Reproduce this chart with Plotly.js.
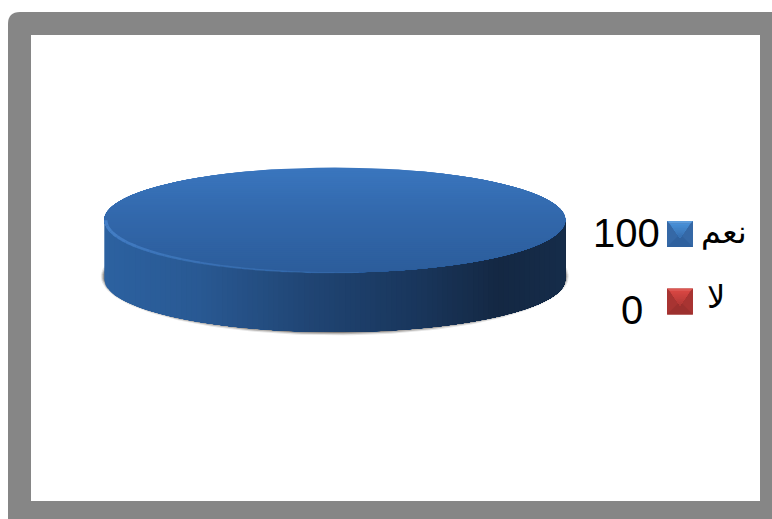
<!DOCTYPE html>
<html><head><meta charset="utf-8">
<script src="https://cdn.plot.ly/plotly-3.0.1.min.js"></script>
<style>html,body{margin:0;padding:0;background:#fff}#c{width:772px;height:519px}</style>
</head><body><div id="c"></div>
<script>
// Data
const categories = ['نعم', 'لا'];
const values = [100, 0];

// Geometry and style
const W = 772, H = 519;
const cx = 334.8, rx = 230.5, ry = 52.5, topY = 220, botY = 279.5;
const total = values.reduce((a, b) => a + b, 0);
const traces = [];
function mixArr(stops, t) {
  for (let i = 1; i < stops.length; i++) {
    if (t <= stops[i][0]) {
      const a = stops[i - 1], b = stops[i], f = (t - a[0]) / (b[0] - a[0] || 1);
      return [1, 2, 3].map(k => Math.round(a[k] + (b[k] - a[k]) * f));
    }
  }
  return stops[stops.length - 1].slice(1);
}
function mix(stops, t) { const c = mixArr(stops, t); return `rgb(${c[0]},${c[1]},${c[2]})`; }
function poly(xs, ys, color) {
  traces.push({ type: 'scatter', mode: 'lines', x: xs, y: ys, fill: 'toself', fillcolor: color,
    line: { width: 0, color: color }, hoverinfo: 'skip', showlegend: false });
}
function stroke(xs, ys, color, width) {
  traces.push({ type: 'scatter', mode: 'lines', x: xs, y: ys,
    line: { width: width, color: color, shape: 'spline' }, hoverinfo: 'skip', showlegend: false });
}
function arcX(a) { return cx + rx * Math.cos(a); }

// Ground shadow, only peeking out round the lower edge of the body
[[3.4, 'rgba(150,150,150,0.25)'], [2.2, 'rgba(120,115,110,0.40)'], [1.0, 'rgba(110,105,100,0.65)']].forEach(s => {
  const xs = [], ys = [];
  for (let d = -14; d <= 194; d += 2) {
    const a = d * Math.PI / 180;
    xs.push(cx + (rx + s[0]) * Math.cos(a));
    ys.push(botY - 3 + (ry + s[0] + 3) * Math.sin(a));
  }
  poly(xs, ys, s[1]);
});

// One slice per category: side wall then top face, angles follow each value's share
const wallStops = [[0, 44, 97, 160], [0.2, 41, 89, 147], [0.44, 32, 69, 116], [0.68, 25, 54, 92],
                   [0.86, 20, 40, 67], [1, 21, 44, 73]];
const topStops = [[0, 58, 118, 190], [0.45, 50, 104, 172], [1, 44, 93, 155]];
categories.forEach((name, idx) => {
  if (!(values[idx] / total > 0)) return;   // a zero share has no area
  const N = 90;
  for (let i = 0; i < N; i++) {
    const left = cx - rx + 2 * rx * i / N;
    const a0 = Math.acos(Math.max(-1, Math.min(1, (left - cx) / rx)));
    const xs = [left, cx + rx], ys = [topY, topY];
    for (let k = 0; k <= 60; k++) {
      const a = a0 * k / 60;
      xs.push(arcX(a)); ys.push(botY + ry * Math.sin(a));
    }
    poly(xs, ys, mix(wallStops, i / (N - 1)));
  }
  const B = 52;
  for (let i = 0; i < B; i++) {
    const s = -1 + 2 * i / B;
    const a0 = Math.asin(s);
    const xs = [], ys = [];
    for (let k = 0; k <= 80; k++) {
      const a = a0 + (Math.PI - 2 * a0) * k / 80;
      xs.push(arcX(a)); ys.push(topY + ry * Math.sin(a));
    }
    poly(xs, ys, mix(topStops, i / (B - 1)));
  }
  // bevel highlight on the front-left rim of the top face
  const H0 = 180, H1 = 84, seg = 16;
  for (let i = 0; i < seg; i++) {
    const xs = [], ys = [];
    for (let k = 0; k <= 6; k++) {
      const d = H0 + (H1 - H0) * (i + k / 6) / seg;
      const a = d * Math.PI / 180;
      xs.push(cx + (rx - 1.5) * Math.cos(a)); ys.push(topY + 0.2 + ry * Math.sin(a));
    }
    const op = 0.6 * (1 - i / seg) + 0.2;
    stroke(xs, ys, `rgba(74,134,206,${op.toFixed(2)})`, 3.4 - 2.4 * i / seg);
  }
});

// Legend swatches, bevelled squares with a soft fade in the upper triangle
const swatchPalette = [
  { side: '#3568a6', bottom: '#2f619e', top: '#5c9cdc', triHi: [70, 142, 214], triLo: [52, 106, 170] },
  { side: '#a83432', bottom: '#9c302e', top: '#dc5652', triHi: [214, 70, 66], triLo: [172, 54, 52] }
];
const swatchX = 680, swatchY = [234, 301.5], half = 13, bev = 2.5;
categories.forEach((name, i) => {
  const p = swatchPalette[i], x = swatchX, y = swatchY[i];
  poly([x - half, x + half, x + half, x - half], [y - half, y - half, y + half, y + half], p.side);
  poly([x - half, x + half, x], [y + half, y + half, y], p.bottom);
  const L = 9, tip = y + 4;
  for (let l = 0; l < L; l++) {
    const f = l / L, yy = y - half + bev + (tip - (y - half + bev)) * f;
    const w = (half - bev) * (1 - f);
    const c = mix([[0, ...p.triHi], [1, ...p.triLo]], f);
    // each layer starts lower down, overpainting the previous one
    poly([x - w, x + w, x], [yy, yy, tip], c);
  }
  poly([x - half, x + half, x + half - bev, x - half + bev], [y - half, y - half, y - half + bev, y - half + bev], p.top);
});

// Legend text
const numFont = { family: 'Liberation Sans, Arial, sans-serif', size: 40, color: '#000' };
const labFont = { family: 'DejaVu Sans, Noto Sans, sans-serif', size: 32, color: '#000' };
const annotations = [];
const numRight = [660, 643], numY = [233, 310], labX = [724, 716], labY = [232, 297];
categories.forEach((name, i) => {
  annotations.push({ x: numRight[i], y: numY[i], xref: 'x', yref: 'y', text: String(values[i]),
    showarrow: false, xanchor: 'right', yanchor: 'middle', font: numFont, borderpad: 0, borderwidth: 0 });
  annotations.push({ x: labX[i], y: labY[i], xref: 'x', yref: 'y', text: name,
    showarrow: false, xanchor: 'center', yanchor: 'middle', font: labFont, borderpad: 0, borderwidth: 0 });
});

const layout = {
  width: W, height: H, margin: { l: 0, r: 0, t: 0, b: 0 }, paper_bgcolor: '#fff', plot_bgcolor: 'rgba(0,0,0,0)',
  xaxis: { range: [0, W], visible: false, fixedrange: true },
  yaxis: { range: [H, 0], visible: false, fixedrange: true },
  showlegend: false, annotations: annotations,
  shapes: [
    { type: 'path', layer: 'below', xref: 'x', yref: 'y', line: { width: 0 }, fillcolor: '#868686',
      path: 'M8,519 L8,24 Q8,12 20,12 L772,12 L772,519 Z' },
    { type: 'rect', layer: 'below', xref: 'x', yref: 'y', x0: 31, x1: 760, y0: 35, y1: 501, line: { width: 0 }, fillcolor: '#fff' }
  ]
};
Plotly.newPlot('c', traces, layout, { displayModeBar: false, staticPlot: true });
</script></body></html>
